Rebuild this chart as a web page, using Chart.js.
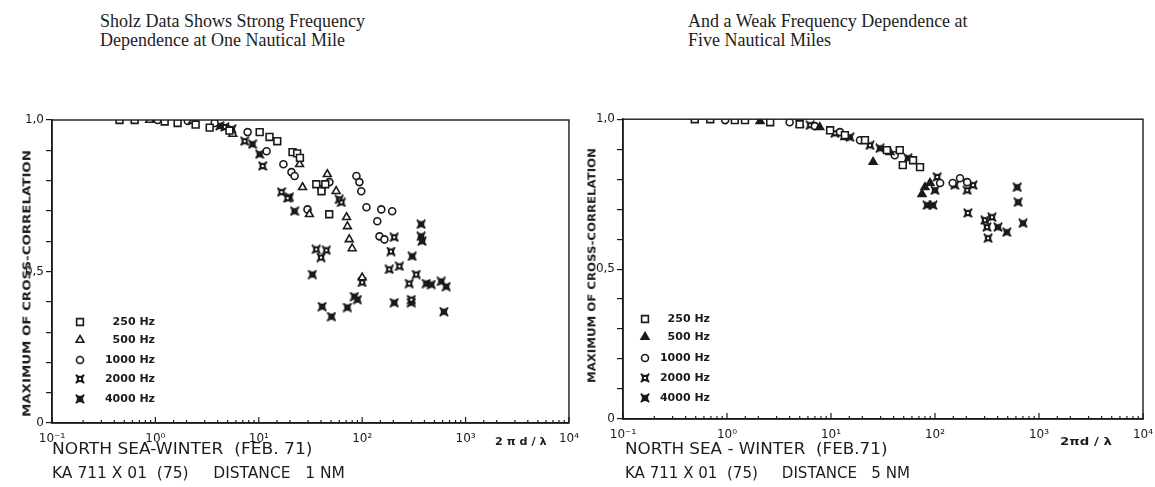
<!DOCTYPE html>
<html>
<head>
<meta charset="utf-8">
<script src="https://cdn.jsdelivr.net/npm/chart.js@4/dist/chart.umd.min.js"></script>
<style>
  body { margin: 0; background: #fff; width: 1155px; height: 487px; position: relative; overflow: hidden; color: #1d1d1d; font-family: "DejaVu Sans", sans-serif; }
  canvas { position: absolute; }
  .t { position: absolute; white-space: pre; line-height: 1; }
  .serif { font-family: "Liberation Serif", serif; font-size: 18px; }
  .cap { font-size: 16px; }
  .ytitle { font-size: 11px; font-weight: bold; }
  .unit { font-size: 11px; font-weight: bold; }
</style>
</head>
<body>
<canvas id="oneNm" width="580" height="340" style="left:0;top:110px"></canvas>
<canvas id="fiveNm" width="575" height="340" style="left:580px;top:110px"></canvas>
<script>
// [2*pi*d/lambda, max cross-correlation]
const hz250_1nm = [[0.45,1.0],[0.63,1.0],[1.23,0.995],[1.64,0.99],[2.45,0.985],[3.35,0.975],[5.2,0.965],[10.2,0.96],[12.7,0.944],[15.1,0.93],[21.2,0.894],[23.5,0.89],[25,0.875],[36,0.788],[40.4,0.765],[44,0.788],[48,0.689]];
const hz500_1nm = [[0.88,1.0],[2.3,0.997],[5.6,0.954],[24.8,0.854],[26.5,0.778],[30.9,0.689],[46,0.821],[56,0.765],[70.6,0.679],[72,0.649],[75,0.606],[80,0.576],[100,0.48]];
const hz1000_1nm = [[1.05,1.0],[2.06,0.997],[3.74,0.99],[7.8,0.96],[11.9,0.897],[17.3,0.854],[20.7,0.828],[22.2,0.815],[29.6,0.705],[40.4,0.772],[48.2,0.795],[88,0.815],[94,0.795],[98,0.765],[110,0.712],[140,0.666],[147,0.616],[153,0.705],[164,0.606],[195,0.699]];
const hz2000_1nm = [[4.7,0.977],[7.3,0.93],[10.9,0.848],[16.6,0.762],[19,0.742],[36,0.573],[40,0.546],[45,0.57],[60,0.738],[63,0.728],[100,0.464],[183,0.507],[190,0.566],[204,0.613],[229,0.517],[285,0.46],[299,0.407],[333,0.49]];
const hz4000_1nm = [[4.2,0.98],[5.5,0.97],[8.7,0.92],[10.2,0.887],[19.8,0.745],[22.2,0.699],[33,0.49],[41,0.384],[50.5,0.351],[72,0.381],[84,0.417],[90,0.407],[204,0.397],[299,0.397],[305,0.55],[372,0.656],[372,0.616],[380,0.6],[417,0.46],[466,0.457],[582,0.467],[617,0.367],[650,0.45]];

const hz250_5nm = [[0.49,1.0],[0.69,1.0],[1.19,0.997],[1.49,0.997],[2.6,0.99],[5.0,0.983],[9.8,0.963],[13.6,0.947],[21.2,0.93],[34.5,0.897],[45.8,0.897],[49,0.847],[61.5,0.863],[71.8,0.84]];
const hz500_5nm = [[2.08,0.993],[7.8,0.973],[13.6,0.94],[25.4,0.857],[36.9,0.89],[75,0.75],[80,0.773],[89.5,0.787]];
const hz1000_5nm = [[0.96,0.997],[4.0,0.99],[7.0,0.977],[12.2,0.957],[19,0.93],[41,0.88],[112,0.787],[148,0.787],[174,0.803],[204,0.79]];
const hz2000_5nm = [[6.3,0.98],[10.9,0.953],[23.7,0.913],[105,0.807],[204,0.763],[207,0.687],[232,0.78],[302,0.663],[316,0.64],[324,0.603],[353,0.673]];
const hz4000_5nm = [[5.0,0.987],[15.2,0.94],[29.6,0.903],[55,0.87],[84,0.713],[95.5,0.713],[100,0.763],[155,0.78],[403,0.64],[490,0.623],[617,0.773],[630,0.723],[702,0.653]];

const seriesLabels = ['250 Hz', '500 Hz', '1000 Hz', '2000 Hz', '4000 Hz'];
const yTickLabels = {0: '0', 0.5: '0,5', 1: '1,0'};

const ink = '#1a1a1a';
const SUP = {'-': '\u207B', '0': '\u2070', '1': '\u00B9', '2': '\u00B2', '3': '\u00B3', '4': '\u2074'};

// concave four-point marker used by the plotter for 2000 / 4000 Hz
function starMarker(filled) {
  const c = document.createElement('canvas');
  c.width = c.height = 10;
  const g = c.getContext('2d');
  g.beginPath();
  g.moveTo(0.8, 0.8);
  g.quadraticCurveTo(5, 4.6, 9.2, 0.8);
  g.quadraticCurveTo(5.4, 5, 9.2, 9.2);
  g.quadraticCurveTo(5, 5.4, 0.8, 9.2);
  g.quadraticCurveTo(4.6, 5, 0.8, 0.8);
  g.closePath();
  g.fillStyle = ink;
  g.fill();
  g.lineWidth = 1.4;
  g.strokeStyle = ink;
  g.stroke();
  if (filled) {
    g.fillRect(2.2, 2.2, 5.6, 5.6);
  } else {
    g.fillStyle = '#fff';
    g.fillRect(4, 4, 2, 2);
  }
  return c;
}

function toPoints(pairs) {
  return pairs.map(([x, y]) => ({x, y}));
}

function makeDatasets(groups, filledTriangle) {
  const styles = [
    {pointStyle: 'rect', pointRadius: 4.8, backgroundColor: '#fff'},
    {pointStyle: 'triangle', pointRadius: 4.5, backgroundColor: filledTriangle ? ink : '#fff'},
    {pointStyle: 'circle', pointRadius: 3.5, backgroundColor: '#fff'},
    {pointStyle: starMarker(false), pointRadius: 5},
    {pointStyle: starMarker(true), pointRadius: 5},
  ];
  return groups.map((pairs, i) => ({
    label: seriesLabels[i],
    data: toPoints(pairs),
    borderColor: ink,
    borderWidth: 1.6,
    showLine: false,
    ...styles[i],
  }));
}

const framePlugin = {
  id: 'frame',
  afterDraw(chart, args, opts) {
    const {ctx, chartArea: a, scales} = chart;
    ctx.save();
    ctx.strokeStyle = ink;
    ctx.lineWidth = 1.4;
    ctx.strokeRect(a.left, a.top, a.right - a.left, a.bottom - a.top);
    // inward x ticks, long ones on the decades
    ctx.lineWidth = 1.2;
    scales.x.ticks.forEach(t => {
      const e = Math.log10(t.value);
      const major = Math.abs(e - Math.round(e)) < 1e-6;
      const px = scales.x.getPixelForValue(t.value);
      ctx.beginPath();
      ctx.moveTo(px, a.bottom);
      ctx.lineTo(px, a.bottom - (major ? 6 : 3));
      ctx.stroke();
    });
    // legend inside the plot
    ctx.font = 'bold 11px "DejaVu Sans", sans-serif';
    ctx.textAlign = 'right';
    ctx.textBaseline = 'middle';
    chart.data.datasets.forEach((ds, i) => {
      const y = opts.rows[i];
      ctx.lineWidth = ds.borderWidth;
      ctx.strokeStyle = ink;
      ctx.fillStyle = ds.backgroundColor || ink;
      Chart.helpers.drawPoint(ctx, {pointStyle: ds.pointStyle, radius: ds.pointRadius, borderWidth: ds.borderWidth, rotation: 0}, opts.symbolX, y);
      ctx.fillStyle = ink;
      ctx.fillText(ds.label, opts.textRight, y);
    });
    ctx.restore();
  }
};

function decadeLabel(v) {
  const e = Math.log10(v);
  if (Math.abs(e - Math.round(e)) > 1e-6) return '';
  return '10' + String(Math.round(e)).split('').map(ch => SUP[ch]).join('');
}

function drawChart({canvasId, datasets, yWidth, xHeight, top, right, legend}) {
  new Chart(document.getElementById(canvasId), {
    type: 'scatter',
    data: {datasets},
    plugins: [framePlugin],
    options: {
      responsive: false,
      animation: false,
      layout: {padding: {top, right, left: 0, bottom: 0}},
      plugins: {legend: {display: false}, tooltip: {enabled: false}, frame: legend},
      scales: {
        x: {
          type: 'logarithmic',
          min: 0.1,
          max: 10000,
          grid: {display: false},
          border: {display: true, color: ink, width: 1.5},
          ticks: {autoSkip: false, maxRotation: 0, color: ink, padding: 1,
                  font: {size: 12, family: '"DejaVu Sans", sans-serif'}, callback: decadeLabel},
          afterFit(scale) { scale.height = xHeight; },
        },
        y: {
          min: 0,
          max: 1,
          grid: {drawOnChartArea: false, tickLength: 6, color: ink, lineWidth: 1.2},
          border: {display: true, color: ink, width: 1.5},
          ticks: {stepSize: 0.1, autoSkip: false, color: ink, padding: 2,
                  font: {size: 12, family: '"DejaVu Sans", sans-serif'},
                  callback: v => yTickLabels[Math.round(v * 10) / 10] || ''},
          afterFit(scale) { scale.width = yWidth; },
        },
      },
    },
  });
}

drawChart({
  canvasId: 'oneNm',
  datasets: makeDatasets([hz250_1nm, hz500_1nm, hz1000_1nm, hz2000_1nm, hz4000_1nm], false),
  yWidth: 52, xHeight: 27, top: 10, right: 10,
  legend: {symbolX: 80, textRight: 155, rows: [212, 230, 250, 269, 289]},
});

drawChart({
  canvasId: 'fiveNm',
  datasets: makeDatasets([hz250_5nm, hz500_5nm, hz1000_5nm, hz2000_5nm, hz4000_5nm], true),
  yWidth: 43, xHeight: 31, top: 9, right: 12,
  legend: {symbolX: 65, textRight: 130, rows: [209, 227, 248, 268, 288]},
});

// text around the plots; w stretches plotter lettering to the widths in the scan
const texts = [
  {s: 'Sholz Data Shows Strong Frequency', cls: 'serif', x: 100, y: 21},
  {s: 'Dependence at One Nautical Mile', cls: 'serif', x: 100, y: 40},
  {s: 'And a Weak Frequency Dependence at', cls: 'serif', x: 688, y: 21},
  {s: 'Five Nautical Miles', cls: 'serif', x: 688, y: 40},
  {s: 'NORTH SEA-WINTER  (FEB. 71)', cls: 'cap', x: 52, y: 449, w: 260},
  {s: 'KA 711 X 01  (75)     DISTANCE   1 NM', cls: 'cap', x: 52, y: 473, w: 293},
  {s: 'NORTH SEA - WINTER  (FEB.71)', cls: 'cap', x: 625, y: 449, w: 262},
  {s: 'KA 711 X 01  (75)     DISTANCE   5 NM', cls: 'cap', x: 625, y: 473, w: 285},
  {s: '2 \u03C0 d / \u03BB', cls: 'unit', x: 495, y: 441, w: 52},
  {s: '2\u03C0d / \u03BB', cls: 'unit', x: 1060, y: 441, w: 52},
  {s: 'MAXIMUM OF CROSS-CORRELATION', cls: 'ytitle', x: 27, y: 283, w: 267, rot: true},
  {s: 'MAXIMUM OF CROSS-CORRELATION', cls: 'ytitle', x: 592, y: 265, w: 235, rot: true},
];

texts.forEach(t => {
  const el = document.createElement('div');
  el.className = 't ' + t.cls;
  el.textContent = t.s;
  document.body.appendChild(el);
  const w = el.offsetWidth, h = el.offsetHeight;
  const k = t.w ? t.w / w : 1;
  if (t.rot) {
    el.style.left = (t.x - w / 2) + 'px';
    el.style.top = (t.y - h / 2) + 'px';
    el.style.transformOrigin = '50% 50%';
    el.style.transform = `rotate(-90deg) scale(${k}, 1)`;
  } else {
    el.style.left = t.x + 'px';
    el.style.top = (t.y - h / 2) + 'px';
    el.style.transformOrigin = '0 50%';
    el.style.transform = `scale(${k}, 1)`;
  }
});
</script>
</body>
</html>
